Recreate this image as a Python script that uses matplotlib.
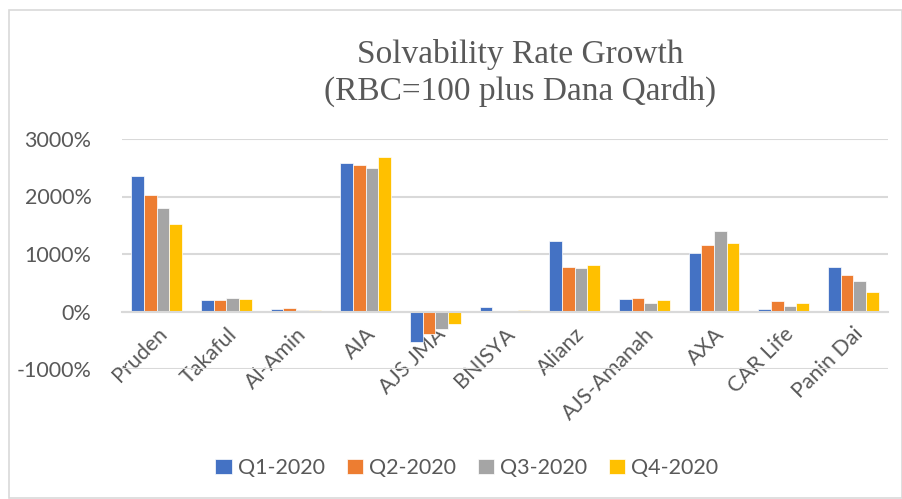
import numpy as np
import matplotlib
matplotlib.use("Agg")
import matplotlib.pyplot as plt
from matplotlib.patches import Rectangle
from matplotlib.ticker import FuncFormatter

companies = ["Pruden", "Takaful", "Al-Amin", "AIA", "AJS JMA", "BNISYA",
             "Alianz", "AJS-Amanah", "AXA", "CAR Life", "Panin Dai"]
series_names = ["Q1-2020", "Q2-2020", "Q3-2020", "Q4-2020"]
q1 = [2360, 203, 40, 2574, -533, 75, 1226, 225, 1023, 35, 775]
q2 = [2030, 203, 64, 2551, -394, 0, 780, 231, 1162, 179, 636]
q3 = [1800, 243, 29, 2487, -301, 0, 751, 144, 1398, 104, 532]
q4 = [1530, 215, 29, 2684, -209, 29, 809, 208, 1191, 150, 341]
colors = ["#4472C4", "#ED7D31", "#A5A5A5", "#FFC000"]

text_color = "#595959"
grid_color = "#D9D9D9"
plt.rcParams["font.family"] = ["Lato", "DejaVu Sans"]

fig = plt.figure(figsize=(9.03, 4.99), dpi=100)
ax = fig.add_axes([122 / 903, 1 - 369 / 499, 766 / 903, 230 / 499])

# chart border
fig.patches.append(Rectangle((9 / 903, 1 / 499), 893 / 903, 488 / 499,
                             transform=fig.transFigure, fill=False,
                             edgecolor=grid_color, linewidth=1.2))

x = np.arange(len(companies))
w = 0.182
for i, (vals, name) in enumerate(zip([q1, q2, q3, q4], series_names)):
    ax.bar(x + (i - 1.5) * w, vals, width=w, color=colors[i], label=name,
           edgecolor="white", linewidth=0.5, zorder=3)

ax.set_xlim(-0.5, len(companies) - 0.5)
ax.set_ylim(-1000, 3000)
ax.set_yticks([-1000, 0, 1000, 2000, 3000])
ax.yaxis.set_major_formatter(FuncFormatter(lambda v, p: f"{int(v)}%"))
ax.grid(axis="y", color=grid_color, linewidth=1.5, zorder=0)
for s in ["top", "right", "left"]:
    ax.spines[s].set_visible(False)
ax.spines["bottom"].set_position(("data", 0))
ax.spines["bottom"].set_color(grid_color)
ax.spines["bottom"].set_linewidth(1.5)
ax.spines["bottom"].set_zorder(4)

ax.set_xticks(x)
ax.set_xticklabels(companies, rotation=45, ha="right", rotation_mode="anchor")
ax.tick_params(axis="x", length=0, pad=9, labelsize=15.5, labelcolor=text_color)
ax.tick_params(axis="y", length=0, pad=22, labelsize=15.5, labelcolor=text_color)

fig.text(520 / 903, 1 - 73 / 499, "Solvability Rate Growth\n(RBC=100 plus Dana Qardh)",
         ha="center", va="center", fontsize=24, color=text_color,
         family="Liberation Serif", linespacing=1.2)

fig.legend(loc="center", bbox_to_anchor=(467 / 903, 1 - 468 / 499), ncol=4,
           frameon=False, fontsize=15.5, labelcolor=text_color,
           handlelength=0.75, handleheight=0.75, handletextpad=0.3,
           columnspacing=1.0)

fig.savefig("out.png", dpi=100)
